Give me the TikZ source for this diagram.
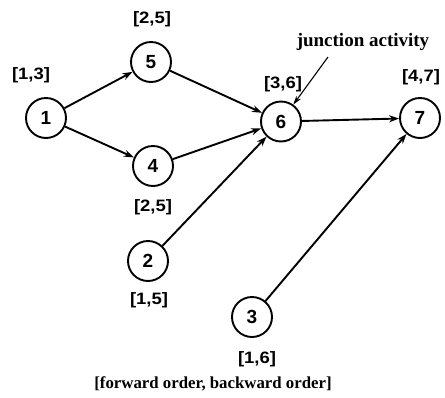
\documentclass[tikz,border=0pt]{standalone}
\usepackage{fontspec}
\setmainfont{Liberation Serif}
\newfontfamily\labfont{Liberation Sans}
\newfontfamily\widelabfont[FakeStretch=1.12]{Liberation Sans}
\usetikzlibrary{arrows.meta}
\tikzset{
  event/.style={circle, draw, line width=1.9pt, minimum size=40pt, inner sep=0pt,
    font=\labfont\bfseries\fontsize{19}{19}\selectfont},
  times/.style={font=\widelabfont\bfseries\fontsize{16.5}{16.5}\selectfont, inner sep=0pt},
  note/.style={font=\bfseries\fontsize{19}{19}\selectfont, inner sep=0pt},
  capt/.style={font=\bfseries\fontsize{16.8}{16.8}\selectfont, inner sep=0pt},
  act/.style={line width=1.9pt, -{Stealth[length=10pt,width=7pt]}},
  pointer/.style={line width=1.1pt, -{Stealth[length=9pt,width=5.5pt]}},
}
\begin{document}
\begin{tikzpicture}[x=1pt,y=-1pt]
  \useasboundingbox (0,0) rectangle (445,397);
  % events
  \node[event] (n1) at (46,118) {1};
  \node[event] (n5) at (151,62) {5};
  \node[event] (n4) at (153,166) {4};
  \node[event] (n6) at (281,121.5) {6};
  \node[event] (n7) at (420,118) {7};
  \node[event] (n2) at (148,261) {2};
  \node[event] (n3) at (252,317) {3};
  % [forward order, backward order] labels
  \node[times] (t1) at (31,75) {[1,3]};
  \node[times] (t5) at (152,19.5) {[2,5]};
  \node[times] (t4) at (153,207) {[2,5]};
  \node[times] (t6) at (283,84) {[3,6]};
  \node[times] (t7) at (421,77) {[4,7]};
  \node[times] (t2) at (149,300) {[1,5]};
  \node[times] (t3) at (257,359) {[1,6]};
  % activities
  \draw[act] (n1) -- (n5);
  \draw[act] (n1) -- (n4);
  \draw[act] (n5) -- (n6);
  \draw[act] (n4) -- (n6);
  \draw[act] (n2) -- (n6);
  \draw[act] (n6) -- (n7);
  \draw[act] (n3) -- (n7);
  % annotations
  \node[note] (ja) at (363,42) {junction activity};
  \coordinate (jaend) at (328,57);
  \draw[pointer] (jaend) -- (n6);
  \node[capt] (cap) at (213,384) {[forward order, backward order]};
\end{tikzpicture}
\end{document}
